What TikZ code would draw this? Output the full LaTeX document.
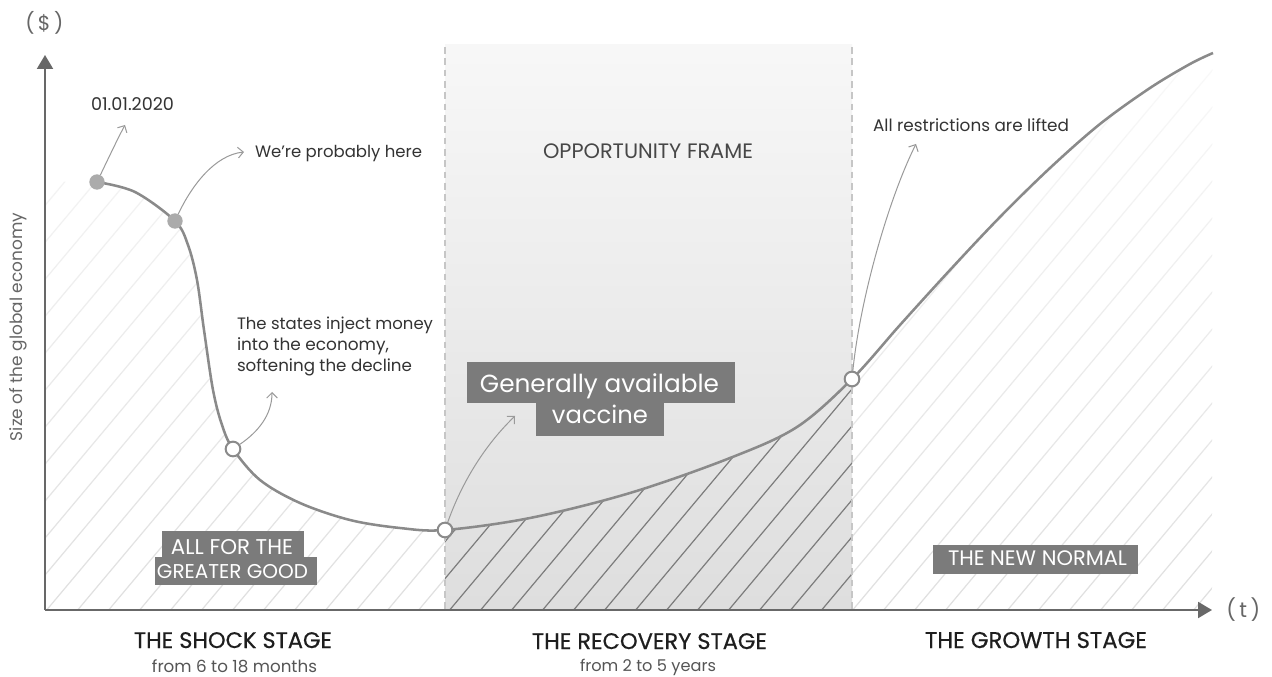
\documentclass[tikz,border=0pt]{standalone}
\usepackage{fontspec}
\setmainfont{Poppins}
\newfontfamily\titlefont[BoldFont={Poppins},BoldFeatures={FakeBold=0.5}]{Poppins}
\usepackage{graphicx}
\usetikzlibrary{arrows.meta,fadings}
\definecolor{curvegray}{HTML}{8A8A8A}
\definecolor{axisgray}{HTML}{686868}
\definecolor{boxgray}{HTML}{7B7B7B}
\definecolor{txtdark}{HTML}{333333}
\definecolor{txtblack}{HTML}{1E1E1E}
\definecolor{txtmid}{HTML}{555555}
\definecolor{txtaxis}{HTML}{666666}
\definecolor{hatchdark}{HTML}{7C7C7C}
\definecolor{hatchlight}{HTML}{E0E0E0}
\definecolor{dashgray}{HTML}{C6C6C6}
\definecolor{dotgray}{HTML}{ABABAB}
\definecolor{arrowgray}{HTML}{9A9A9A}
\newcommand{\fitw}[2]{\resizebox{0.75\dimexpr #1pt\relax}{!}{#2}}
\begin{document}
\begin{tikzpicture}[x=0.75pt,y=-0.75pt,
  lbl/.style={inner sep=0pt,outer sep=0pt,anchor=base west,text=txtdark},
  ctr/.style={inner sep=0pt,outer sep=0pt,anchor=base},
  boxlbl/.style={inner sep=0pt,outer sep=0pt,anchor=base,text=white},
  gbox/.style={fill=boxgray,draw=none,inner sep=0pt,outer sep=0pt,anchor=north west},
  filldot/.style={circle,fill=dotgray,draw=none,minimum size=11.5pt,inner sep=0pt},
  opendot/.style={circle,fill=white,draw=curvegray,line width=1.5pt,minimum size=11pt,inner sep=0pt},
  curve/.style={draw=curvegray,line width=1.9pt},
  axis/.style={draw=axisgray,line width=1.6pt,-{Triangle[length=10.5pt,width=12pt]}},
  note/.style={draw=arrowgray,line width=0.75pt,-{Straight Barb[length=4pt,width=8pt]}},
  dashline/.style={draw=dashgray,line width=0.8pt,dash pattern=on 5pt off 3.5pt},
]
\useasboundingbox (0,0) rectangle (1272,677);
\fill[white] (0,0) rectangle (1272,677);

% opportunity frame background
\shade[top color=white!97!black,bottom color=black!13] (445,45) rectangle (852,610);

% hatching under the curve
\begin{scope}
  \clip (45,610) -- (45,182) -- plot[smooth,tension=0.55] coordinates {(97,182) (135,192) (175,221) (188,245) (197,280) (204,330) (213,390) (222,425) (233,449) (260,480) (300,503) (350,520) (400,528) (445,530) (530,518) (630,493) (730,458) (797,427) (852,379) (900,325) (950,270) (1000,217) (1050,168) (1100,124) (1150,88) (1190,64) (1213,53)} -- (1213,610) -- cycle;
  \begin{scope}
    \clip (45,40) rectangle (445,610) (852,40) rectangle (1212,610);
    \foreach \i in {-25,...,40} {\draw[hatchlight,line width=0.9pt] (45+\i*31,612) -- ++(520,-620);}
    \fill[white,path fading=south,fill opacity=0.85] (45,40) rectangle (445,610);
    \fill[white,path fading=south,fill opacity=0.85] (852,40) rectangle (1212,610);
  \end{scope}
  \begin{scope}
    \clip (445,40) rectangle (852,610);
    \foreach \i in {-25,...,40} {\draw[hatchdark,line width=0.9pt] (45+\i*31,612) -- ++(520,-620);}
  \end{scope}
\end{scope}

% dashed boundaries
\draw[dashline] (445,47) -- (445,610);
\draw[dashline] (852,47) -- (852,610);

% axes
\coordinate (o) at (45,610);
\coordinate (ytip) at (45,55);
\coordinate (xtip) at (1212,610);
\draw[axis] (o) -- (ytip);
\draw[axis] (o) -- (xtip);
\node[inner sep=0pt,anchor=base west,text=txtaxis] (dollar) at (25,31) {\fitw{38}{(\,\$\,)}};
\node[inner sep=0pt,anchor=west,text=txtaxis] (tlab) at (1226,610) {\fitw{34}{(\,t\,)}};
\node[inner sep=0pt,rotate=90,text=txtaxis] (ylab) at (18,327) {\fitw{228}{Size of the global economy}};

% curve
\draw[curve] plot[smooth,tension=0.55] coordinates {(97,182) (135,192) (175,221) (188,245) (197,280) (204,330) (213,390) (222,425) (233,449) (260,480) (300,503) (350,520) (400,528) (445,530) (530,518) (630,493) (730,458) (797,427) (852,379) (900,325) (950,270) (1000,217) (1050,168) (1100,124) (1150,88) (1190,64) (1213,53)};

% points
\node[filldot] (p1) at (97,182) {};
\node[filldot] (p2) at (175,221) {};
\node[opendot] (p3) at (233,449) {};
\node[opendot] (p4) at (445,530) {};
\node[opendot] (p5) at (852,379) {};

% annotation arrows
\coordinate (a1) at (125,125);
\coordinate (a2) at (244,152);
\coordinate (a3) at (272,392);
\coordinate (a4) at (515,416);
\coordinate (a5) at (916,144);
\draw[note] (p1) .. controls (110,155) and (118,138) .. (a1);
\draw[note] (p2) .. controls (192,185) and (215,155) .. (a2);
\draw[note] (p3) .. controls (258,432) and (272,415) .. (a3);
\draw[note] (p4) .. controls (462,482) and (485,445) .. (a4);
\draw[note] (p5) .. controls (860,300) and (888,200) .. (a5);

% annotation texts
\node[lbl] (t1) at (91,111) {\fitw{83}{01.01.2020}};
\node[lbl] (t2) at (255,158) {\fitw{167}{We’re probably here}};
\node[lbl] (t3a) at (237,330) {\fitw{196}{The states inject money}};
\node[lbl] (t3b) at (237,351) {\fitw{152}{into the economy,}};
\node[lbl] (t3c) at (237,372) {\fitw{175}{softening the decline}};
\node[lbl,text=txtdark!90!white] (opp) at (543,159) {\fitw{210}{OPPORTUNITY FRAME}};
\node[lbl] (t5) at (873,132) {\fitw{196}{All restrictions are lifted}};

% grey boxes
\node[gbox,minimum width=201pt,minimum height=31pt] (vb1) at (467,362) {};
\node[gbox,minimum width=96pt,minimum height=25.5pt] (vb2) at (536,402) {};
\node[boxlbl] (vt1) at (599.5,393) {\fitw{239}{Generally available}};
\node[boxlbl] (vt2) at (600,423) {\fitw{96}{vaccine}};

\node[gbox,minimum width=106.5pt,minimum height=19.5pt] (ab1) at (162,531) {};
\node[gbox,minimum width=121.5pt,minimum height=21pt] (ab2) at (155,557) {};
\node[boxlbl] (at1) at (232,554) {\fitw{122}{ALL FOR THE}};
\node[boxlbl] (at2) at (232.5,578) {\fitw{151}{GREATER GOOD}};

\node[gbox,minimum width=153.75pt,minimum height=21.75pt] (nb) at (933,545) {};
\node[boxlbl] (nt) at (1037.5,565) {\fitw{179}{THE NEW NORMAL}};

% stage titles
\node[ctr,text=txtblack] (s1) at (233,648) {\fitw{198}{\titlefont\bfseries THE SHOCK STAGE}};
\node[ctr,text=txtmid] (s1b) at (234.5,672) {\fitw{165}{from 6 to 18 months}};
\node[ctr,text=txtblack] (s2) at (649.5,649) {\fitw{235}{\titlefont\bfseries THE RECOVERY STAGE}};
\node[ctr,text=txtmid] (s2b) at (648,671) {\fitw{136}{from 2 to 5 years}};
\node[ctr,text=txtblack] (s3) at (1036,648) {\fitw{222}{\titlefont\bfseries THE GROWTH STAGE}};
\end{tikzpicture}
\end{document}
